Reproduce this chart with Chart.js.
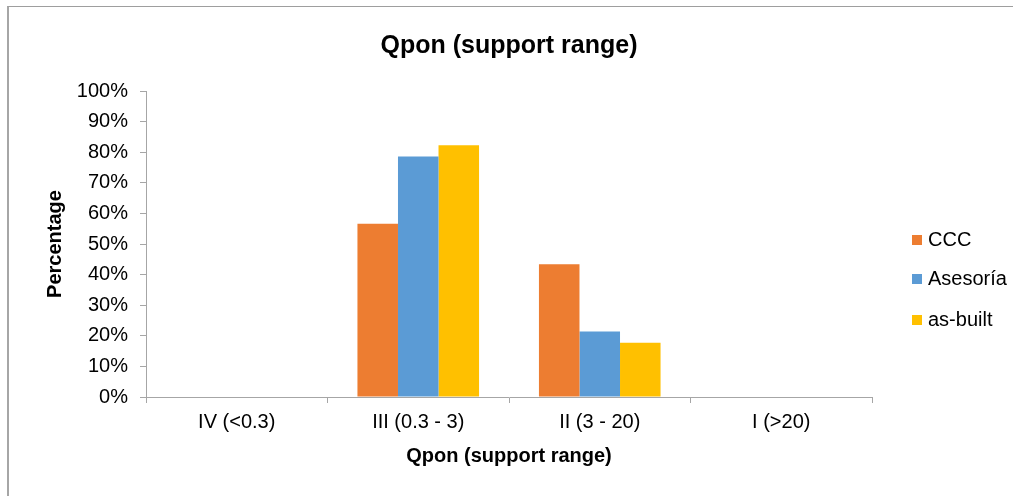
<!DOCTYPE html>
<html>
<head>
<meta charset="utf-8">
<script src="https://cdn.jsdelivr.net/npm/chart.js@4/dist/chart.umd.min.js"></script>
<style>
  body { margin: 0; background: #fff; }
  #wrap { position: relative; width: 1013px; height: 496px; overflow: hidden; }
  #frame { position: absolute; left: 7px; top: 6px; width: 1100px; height: 600px;
           border-top: 1px solid #9e9e9e; border-left: 2px solid #a6a6a6; }
  #legend { position: absolute; left: 912px; top: 0; font-family: "Liberation Sans", Arial, sans-serif;
            font-size: 20px; color: #000; }
  .item { position: absolute; left: 0; white-space: nowrap; }
  .box { position: absolute; left: 0; width: 10px; height: 10px; }
  .lbl { position: absolute; left: 16px; line-height: 24px; }
</style>
</head>
<body>
<div id="wrap">
  <div id="frame"></div>
  <canvas id="myChart" width="1013" height="496"></canvas>
  <div id="legend"></div>
</div>
<script>
var categories = ["IV (<0.3)", "III (0.3 - 3)", "II (3 - 20)", "I (>20)"];
var seriesNames = ["CCC", "Asesoría", "as-built"];
var cccValues = [0, 56.6, 43.4, 0];
var asesoriaValues = [0, 78.6, 21.4, 0];
var asBuiltValues = [0, 82.3, 17.7, 0];
var colors = ["#ED7D31", "#5B9BD5", "#FFC000"];
var yTicks = [0, 10, 20, 30, 40, 50, 60, 70, 80, 90, 100];

var ctx = document.getElementById("myChart").getContext("2d");
Chart.defaults.font.family = "'Liberation Sans', Arial, sans-serif";
Chart.defaults.color = "#000";

var allValues = [cccValues, asesoriaValues, asBuiltValues];
var datasets = seriesNames.map(function (name, i) {
  return {
    label: name,
    data: allValues[i],
    backgroundColor: colors[i],
    categoryPercentage: 0.67,
    barPercentage: 1.0,
  };
});

var myChart = new Chart(ctx, {
  type: "bar",
  data: { labels: categories, datasets: datasets },
  options: {
    responsive: false,
    animation: false,
    layout: { padding: { left: 39, right: 141, top: 0, bottom: 24 } },
    plugins: {
      legend: { display: false },
      tooltip: { enabled: false },
      title: {
        display: true,
        fullSize: false,
        text: "Qpon (support range)",
        font: { size: 25, weight: "bold" },
        color: "#000",
        padding: { top: 31, bottom: 30 },
      },
    },
    scales: {
      x: {
        grid: { display: true, drawOnChartArea: false, drawTicks: true, tickLength: 6, color: "#a6a6a6", offset: true },
        border: { display: true, color: "#a6a6a6", width: 1 },
        ticks: { font: { size: 20 }, padding: 7, maxRotation: 0, color: "#000" },
        title: { display: true, text: "Qpon (support range)", font: { size: 20, weight: "bold" }, padding: { top: 3, bottom: 4 }, color: "#000" },
      },
      y: {
        min: 0,
        max: 100,
        afterFit: function (scale) { scale.width = 107; },
        afterBuildTicks: function (scale) {
          scale.ticks = yTicks.map(function (v) { return { value: v }; });
        },
        grid: { display: true, drawOnChartArea: false, drawTicks: true, tickLength: 6, color: "#a6a6a6" },
        border: { display: true, color: "#a6a6a6", width: 1 },
        ticks: {
          font: { size: 20 },
          padding: 12,
          color: "#000",
          callback: function (value) { return value + "%"; },
        },
        title: { display: true, text: "Percentage", font: { size: 20, weight: "bold" }, padding: { top: 4, bottom: 4 }, color: "#000" },
      },
    },
  },
});

// legend drawn as html, next to the plot
var legendTops = [240, 279, 320];
var legend = document.getElementById("legend");
seriesNames.forEach(function (name, i) {
  var item = document.createElement("div");
  item.className = "item";
  item.style.top = legendTops[i] + "px";
  var box = document.createElement("div");
  box.className = "box";
  box.style.background = colors[i];
  box.style.top = "-5px";
  var lbl = document.createElement("div");
  lbl.className = "lbl";
  lbl.style.top = "-13px";
  lbl.textContent = name;
  item.appendChild(box);
  item.appendChild(lbl);
  legend.appendChild(item);
});
</script>
</body>
</html>
